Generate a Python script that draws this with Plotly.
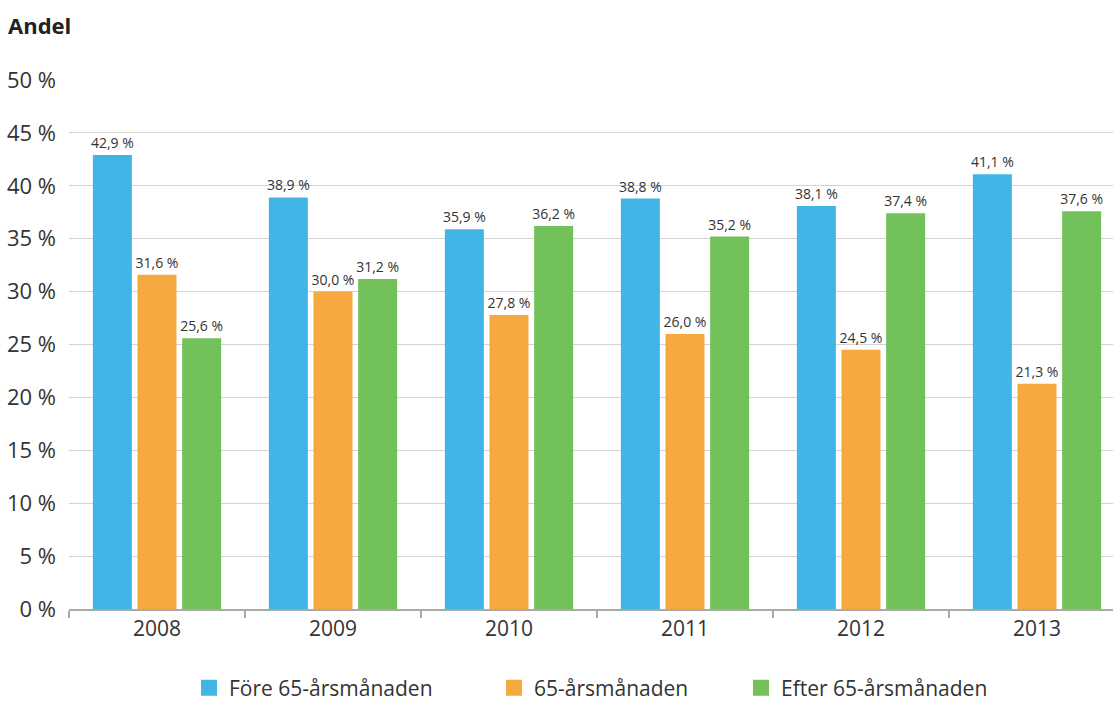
import plotly.graph_objects as go

years = ["2008", "2009", "2010", "2011", "2012", "2013"]
fore = [42.9, 38.9, 35.9, 38.8, 38.1, 41.1]
manad = [31.6, 30.0, 27.8, 26.0, 24.5, 21.3]
efter = [25.6, 31.2, 36.2, 35.2, 37.4, 37.6]
series_names = ["Före 65-årsmånaden", "65-årsmånaden", "Efter 65-årsmånaden"]
colors = ["#41B6E6", "#F5A93F", "#72C15A"]
y_ticks = [0, 5, 10, 15, 20, 25, 30, 35, 40, 45, 50]
y_ticklabels = [f"{v} %" for v in y_ticks]

W, H = 1113, 704
FONT = "Open Sans"

def fmt(v):
    return f"{v:.1f}".replace(".", ",") + " %"

fig = go.Figure()
legends = ["legend", "legend2", "legend3"]
for vals, name, col, lg in zip([fore, manad, efter], series_names, colors, legends):
    fig.add_trace(go.Bar(
        x=years, y=vals, name=name, marker_color=col, marker_line_width=0,
        text=[fmt(v) for v in vals], textposition="outside", constraintext="none",
        textfont=dict(size=14, color="#333333", family=FONT),
        cliponaxis=False, showlegend=False,
    ))
    fig.add_trace(go.Scatter(
        x=[None], y=[None], mode="markers", name=name,
        marker=dict(symbol="square", size=20, color=col),
        legend=lg, showlegend=True,
    ))

leg_x = [189, 494, 741]
layout_legends = {}
for lg, xp in zip(legends, leg_x):
    layout_legends[lg] = dict(
        orientation="h", x=xp / W, xanchor="left", xref="container",
        y=1 - 688 / H, yanchor="middle", yref="container",
        font=dict(size=21, color="#333333", family=FONT),
        bgcolor="rgba(0,0,0,0)", itemsizing="trace",
    )

fig.update_layout(
    width=W, height=H,
    margin=dict(l=69, r=0, t=80, b=95, autoexpand=False),
    plot_bgcolor="white", paper_bgcolor="white",
    barmode="group", bargap=0.239, bargroupgap=0.127,
    font=dict(family=FONT, color="#333333"),
    title=dict(text="<b>Andel</b>", x=8 / W, xanchor="left", xref="container",
               y=1 - 26 / H, yanchor="middle", yref="container",
               font=dict(size=22, color="#222222", family=FONT)),
    **layout_legends,
)
fig.update_yaxes(
    range=[0, 50], tickvals=y_ticks, ticktext=y_ticklabels,
    showgrid=True, gridcolor="#D3D3D3", gridwidth=1.2,
    zeroline=False, showline=False, ticks="",
    tickfont=dict(size=22, color="#333333", family=FONT),
    ticklabelstandoff=12, automargin=False,
)
fig.update_xaxes(
    range=[-0.5, 5.5 - 12 / 176], showline=True, linecolor="#AAAAAA", linewidth=1.5,
    ticks="outside", tickson="boundaries", ticklen=7, tickcolor="#AAAAAA", tickwidth=1.5,
    tickfont=dict(size=21, color="#333333", family=FONT),
    showgrid=False, automargin=False,
)
fig.write_html("out.html", config={"displayModeBar": False},
               post_script="document.body.style.margin='0';document.body.style.overflow='hidden';")
